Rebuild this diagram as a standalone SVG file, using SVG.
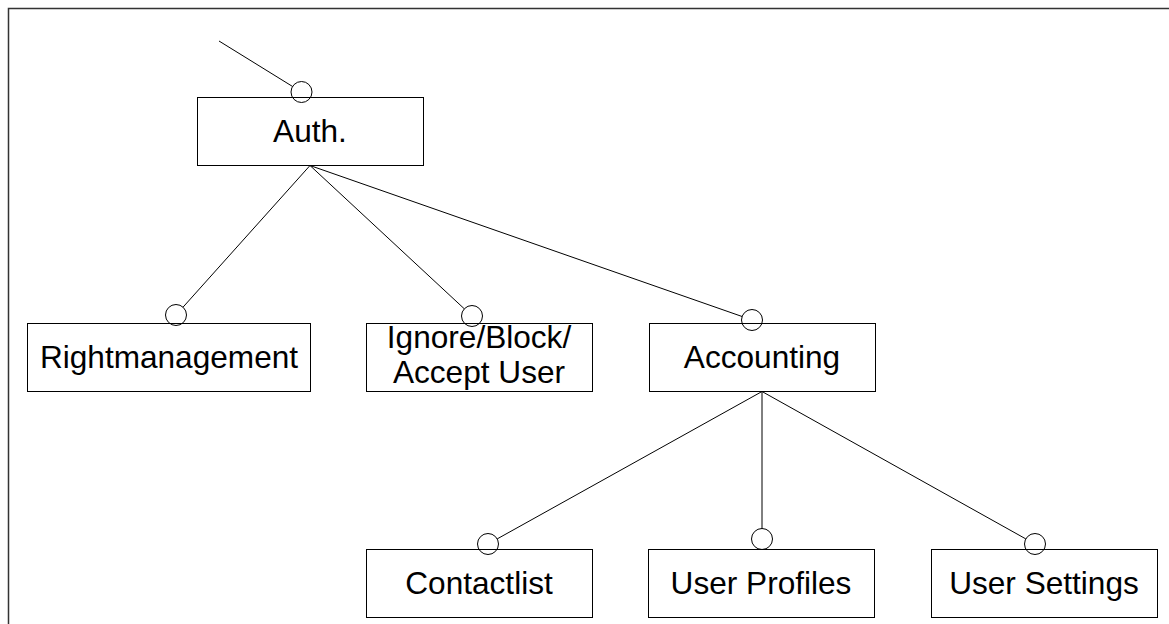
<svg xmlns="http://www.w3.org/2000/svg" width="1169" height="624" viewBox="0 0 1169 624">
<style>
.box{fill:#fff;stroke:#000;stroke-width:1}
.lbl{font-family:"Liberation Sans",Arial,sans-serif;font-size:31.6px;fill:#000;text-anchor:middle}
.c{fill:none;stroke:#000;stroke-width:1}
.ln{stroke:#000;stroke-width:1;fill:none}
</style>
<rect x="0" y="0" width="1169" height="624" fill="#fff"/>
<rect x="8.5" y="8.5" width="1170" height="630" fill="none" stroke="#333" stroke-width="1.5"/>
<g id="auth"><rect class="box" x="197.5" y="97.5" width="226" height="68"/><text class="lbl" x="310" y="142">Auth.</text></g>
<g id="rightmanagement"><rect class="box" x="27.5" y="323.5" width="283" height="68"/><text class="lbl" x="169" y="368">Rightmanagement</text></g>
<g id="ignore"><rect class="box" x="366.5" y="323.5" width="226" height="68"/><text class="lbl" x="479" y="348">Ignore/Block/</text><text class="lbl" x="479" y="383">Accept User</text></g>
<g id="accounting"><rect class="box" x="649.5" y="323.5" width="226" height="68"/><text class="lbl" x="762" y="368">Accounting</text></g>
<g id="contactlist"><rect class="box" x="366.5" y="549.5" width="226" height="68"/><text class="lbl" x="479" y="594">Contactlist</text></g>
<g id="userprofiles"><rect class="box" x="648.5" y="549.5" width="226" height="68"/><text class="lbl" x="761" y="594">User Profiles</text></g>
<g id="usersettings"><rect class="box" x="931.5" y="549.5" width="226" height="68"/><text class="lbl" x="1044" y="594">User Settings</text></g>
<g id="connectors">
<line class="ln" x1="219" y1="41" x2="292.6" y2="86.5"/><circle class="c" cx="301.5" cy="92" r="10.5"/>
<line class="ln" x1="310" y1="165.5" x2="183" y2="307.2"/><circle class="c" cx="176" cy="315" r="10.5"/>
<line class="ln" x1="310" y1="165.5" x2="464.3" y2="308.8"/><circle class="c" cx="472" cy="316" r="10.5"/>
<line class="ln" x1="310" y1="165.5" x2="742.1" y2="316.5"/><circle class="c" cx="752" cy="320" r="10.5"/>
<line class="ln" x1="762" y1="391.5" x2="497.2" y2="538.9"/><circle class="c" cx="488" cy="544" r="10.5"/>
<line class="ln" x1="762" y1="391.5" x2="762" y2="528.5"/><circle class="c" cx="762" cy="539" r="10.5"/>
<line class="ln" x1="762" y1="391.5" x2="1025.8" y2="538.9"/><circle class="c" cx="1035" cy="544" r="10.5"/>
</g>
</svg>
